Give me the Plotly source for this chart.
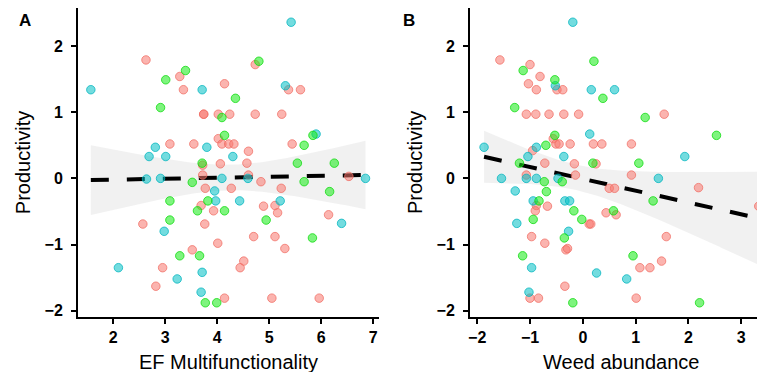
import numpy as np
import plotly.graph_objects as go

# ---------------- data ----------------
# Panel A: EF multifunctionality vs productivity
ef_cyan = [1.57, 5.42, 3.71, 5.31, 5.90, 2.81, 2.69, 3.01, 3.80, 4.30, 2.64, 2.91, 4.09, 4.59, 6.85,
           3.95, 3.97, 4.43, 5.21, 2.98, 6.39, 2.10, 3.23, 3.71, 3.69]
prod_cyan_a = [1.34, 2.36, 1.34, 1.40, 0.67, 0.47, 0.33, 0.33, 0.47, 0.33, -0.01, 0.0, 0.0, 0.0, 0.0,
               -0.19, -0.34, -0.34, -0.34, -0.80, -0.68, -1.35, -1.52, -1.42, -1.72]

ef_green = [3.39, 3.01, 4.80, 2.91, 4.35, 4.09, 4.14, 5.84, 5.67, 3.71, 5.54, 6.25, 3.52, 5.67,
            6.16, 3.09, 3.82, 3.62, 4.14, 3.09, 4.94, 5.83, 3.28, 3.66, 3.77, 3.99]
prod_green_a = [1.63, 1.49, 1.77, 1.07, 1.21, 0.92, 0.65, 0.65, 0.50, 0.23, 0.23, 0.23, -0.06, -0.05,
                -0.20, -0.34, -0.34, -0.49, -0.49, -0.63, -0.63, -0.90, -1.17, -1.17, -1.88, -1.88]

ef_salmon = [2.63, 3.28, 3.35, 4.14, 4.73, 5.37, 5.60, 3.74, 3.74, 4.02, 4.24, 4.73, 5.24, 3.09, 3.55,
             4.02, 4.09, 4.22, 4.32, 5.44, 4.60, 4.06, 4.57, 3.72, 4.60, 4.84, 6.53,
             3.77, 4.27, 5.23, 3.69, 3.93, 4.89, 5.11, 5.16, 6.14, 2.57, 3.76, 4.70, 5.11, 4.01,
             3.52, 5.30, 4.51, 4.44, 2.95, 2.82, 4.14, 5.05, 5.96, 3.72]
prod_salmon_a = [1.79, 1.54, 1.34, 1.43, 1.72, 1.34, 1.34, 0.97, 0.97, 0.97, 0.97, 0.97, 0.97, 0.52, 0.52,
                 0.60, 0.52, 0.52, 0.52, 0.52, 0.41, 0.22, 0.23, 0.05, 0.05, -0.05, 0.03,
                 -0.15, -0.15, -0.15, -0.41, -0.49, -0.42, -0.41, -0.52, -0.55, -0.69, -0.69, -0.88, -0.88, -0.98,
                 -1.08, -1.06, -1.25, -1.35, -1.35, -1.63, -1.81, -1.81, -1.81, 0.20]

# Panel B: weed abundance vs productivity
weed_cyan = [-0.19, -0.52, 0.16, 0.60, 0.13, -1.87, -0.88, -1.04, -0.36, 1.93, -1.54, -1.07, -0.88, -0.47,
             1.43, -1.28, -0.94, -0.34, -0.25, -1.25, -0.27, -0.97, 0.26, 0.83, -1.02]
prod_cyan_b = [2.36, 1.40, 1.34, 1.34, 0.67, 0.47, 0.47, 0.33, 0.33, 0.33, 0.0, 0.0, 0.0, 0.0,
               0.0, -0.19, -0.34, -0.34, -0.34, -0.68, -0.80, -1.35, -1.43, -1.52, -1.72]

weed_green = [-1.13, -0.53, 0.21, -1.29, 0.38, 1.18, -0.53, 2.53, -0.70, -1.20, 0.19, 1.06, -0.73, -0.39,
              -0.69, -0.83, 1.33, -0.17, 0.58, -0.94, -0.02, -0.35, -1.14, 0.95, -0.19, 2.21]
prod_green_b = [1.63, 1.49, 1.77, 1.07, 1.21, 0.92, 0.65, 0.65, 0.50, 0.23, 0.23, 0.23, -0.05, -0.05,
                -0.20, -0.34, -0.34, -0.49, -0.49, -0.62, -0.62, -0.90, -1.17, -1.17, -1.88, -1.88]

weed_salmon = [-1.57, -1.00, -0.81, -1.03, -0.88, -0.49, -0.38, -1.07, -0.89, -0.64, -0.36, -0.08, 1.54,
               -0.56, -0.51, -0.45, -0.24, 0.20, 0.36, 0.92, -0.95, -0.72, -0.16, 0.25, -1.07, -0.14, 0.92, 2.19,
               0.50, 0.60, 3.33, -0.88, -0.90, -0.67, 0.44, 0.63, 0.12, 0.15, -0.97, 1.58, -0.72, -0.32, -0.29,
               1.08, 1.27, 1.49, -0.34, -1.00, -0.84, 1.01]
prod_salmon_b = [1.79, 1.72, 1.54, 1.43, 1.34, 1.34, 1.34, 0.97, 0.97, 0.97, 0.97, 0.97, 0.97,
                 0.60, 0.52, 0.52, 0.52, 0.52, 0.52, 0.52, 0.42, 0.23, 0.22, 0.22, 0.05, 0.05, 0.05, -0.14,
                 -0.15, -0.15, -0.42, -0.41, -0.49, -0.42, -0.52, -0.55, -0.69, -0.69, -0.88, -0.88, -0.98, -1.08, -1.06,
                 -1.35, -1.35, -1.25, -1.63, -1.81, -1.81, -1.81]

y_ticks = [-2, -1, 0, 1, 2]
xa_ticks = [2, 3, 4, 5, 6, 7]
xb_ticks = [-2, -1, 0, 1, 2, 3]

# ---------------- styling ----------------
W, H = 765, 372
FONT = "Liberation Sans, Arial, sans-serif"
colors = {
    "salmon": ("rgba(248,118,109,0.55)", "rgba(240,110,100,0.75)"),
    "cyan": ("rgba(0,191,196,0.55)", "rgba(0,180,190,0.75)"),
    "green": ("rgba(20,235,20,0.55)", "rgba(20,220,20,0.8)"),
}
T_CRIT = 1.984


def fit_band(x, y):
    x = np.asarray(x, float)
    y = np.asarray(y, float)
    n = len(x)
    b1, b0 = np.polyfit(x, y, 1)
    resid = y - (b0 + b1 * x)
    s = np.sqrt(np.sum(resid ** 2) / (n - 2))
    xm = x.mean()
    sxx = np.sum((x - xm) ** 2)
    gx = np.linspace(x.min(), x.max(), 120)
    gy = b0 + b1 * gx
    se = s * np.sqrt(1.0 / n + (gx - xm) ** 2 / sxx)
    return gx, gy, gy - T_CRIT * se, gy + T_CRIT * se


fig = go.Figure()

panels = [
    ("x", "y", [(ef_salmon, prod_salmon_a, "salmon"), (ef_cyan, prod_cyan_a, "cyan"), (ef_green, prod_green_a, "green")]),
    ("x2", "y2", [(weed_salmon, prod_salmon_b, "salmon"), (weed_cyan, prod_cyan_b, "cyan"), (weed_green, prod_green_b, "green")]),
]

for xa, ya, groups in panels:
    allx = sum([g[0] for g in groups], [])
    ally = sum([g[1] for g in groups], [])
    gx, gy, lo, hi = fit_band(allx, ally)
    fig.add_trace(go.Scatter(x=gx, y=hi, mode="lines", line=dict(width=0), xaxis=xa, yaxis=ya,
                             hoverinfo="skip", showlegend=False))
    fig.add_trace(go.Scatter(x=gx, y=lo, mode="lines", line=dict(width=0), fill="tonexty",
                             fillcolor="rgba(225,225,225,0.45)", xaxis=xa, yaxis=ya,
                             hoverinfo="skip", showlegend=False))
    fig.add_trace(go.Scatter(x=gx, y=gy, mode="lines", line=dict(color="black", width=4, dash="18px,18px"),
                             xaxis=xa, yaxis=ya, showlegend=False))
    for gxs, gys, cname in groups:
        fc, lc = colors[cname]
        fig.add_trace(go.Scatter(x=gxs, y=gys, mode="markers", xaxis=xa, yaxis=ya, showlegend=False,
                                 marker=dict(size=8.5, color=fc, line=dict(color=lc, width=1))))

tickfont = dict(family=FONT, size=16, color="black", weight="bold")
axis_common = dict(showline=True, linecolor="black", linewidth=1.5, ticks="outside", ticklen=5,
                   tickcolor="black", tickwidth=1.5, showgrid=False, zeroline=False, tickfont=tickfont)

fig.update_layout(
    width=W, height=H, margin=dict(l=0, r=0, t=0, b=0),
    paper_bgcolor="white", plot_bgcolor="white", showlegend=False,
    xaxis=dict(domain=[68 / W, 370 / W], range=[1.32, 7.11], tickvals=xa_ticks, anchor="y", **axis_common),
    yaxis=dict(domain=[(H - 311) / H, 1], range=[-2.10, 2.575], tickvals=y_ticks, anchor="x",
               ticklabelstandoff=5, **axis_common),
    xaxis2=dict(domain=[461 / W, 1.0], range=[-2.14, 3.6], tickvals=xb_ticks, anchor="y2", **axis_common),
    yaxis2=dict(domain=[(H - 311) / H, 1], range=[-2.10, 2.575], tickvals=y_ticks, anchor="x2",
                ticklabelstandoff=5, **axis_common),
)

title_font = dict(family=FONT, size=20, color="black")
ann = [
    dict(text="EF Multifunctionality", x=219 / W, y=(H - 356) / H, xref="paper", yref="paper",
         showarrow=False, font=title_font, xanchor="center", yanchor="middle"),
    dict(text="Weed abundance", x=613 / W, y=(H - 356) / H, xref="paper", yref="paper",
         showarrow=False, font=title_font, xanchor="center", yanchor="middle"),
    dict(text="Productivity", x=13 / W, y=(H - 155) / H, xref="paper", yref="paper", textangle=-90,
         showarrow=False, font=title_font, xanchor="center", yanchor="middle"),
    dict(text="Productivity", x=406 / W, y=(H - 155) / H, xref="paper", yref="paper", textangle=-90,
         showarrow=False, font=title_font, xanchor="center", yanchor="middle"),
    dict(text="<b>A</b>", x=7 / W, y=(H - 13) / H, xref="paper", yref="paper", showarrow=False,
         font=dict(family=FONT, size=17, color="black"), xanchor="left", yanchor="middle"),
    dict(text="<b>B</b>", x=392 / W, y=(H - 13) / H, xref="paper", yref="paper", showarrow=False,
         font=dict(family=FONT, size=17, color="black"), xanchor="left", yanchor="middle"),
]
fig.update_layout(annotations=ann)

fig.write_html("out.html")
